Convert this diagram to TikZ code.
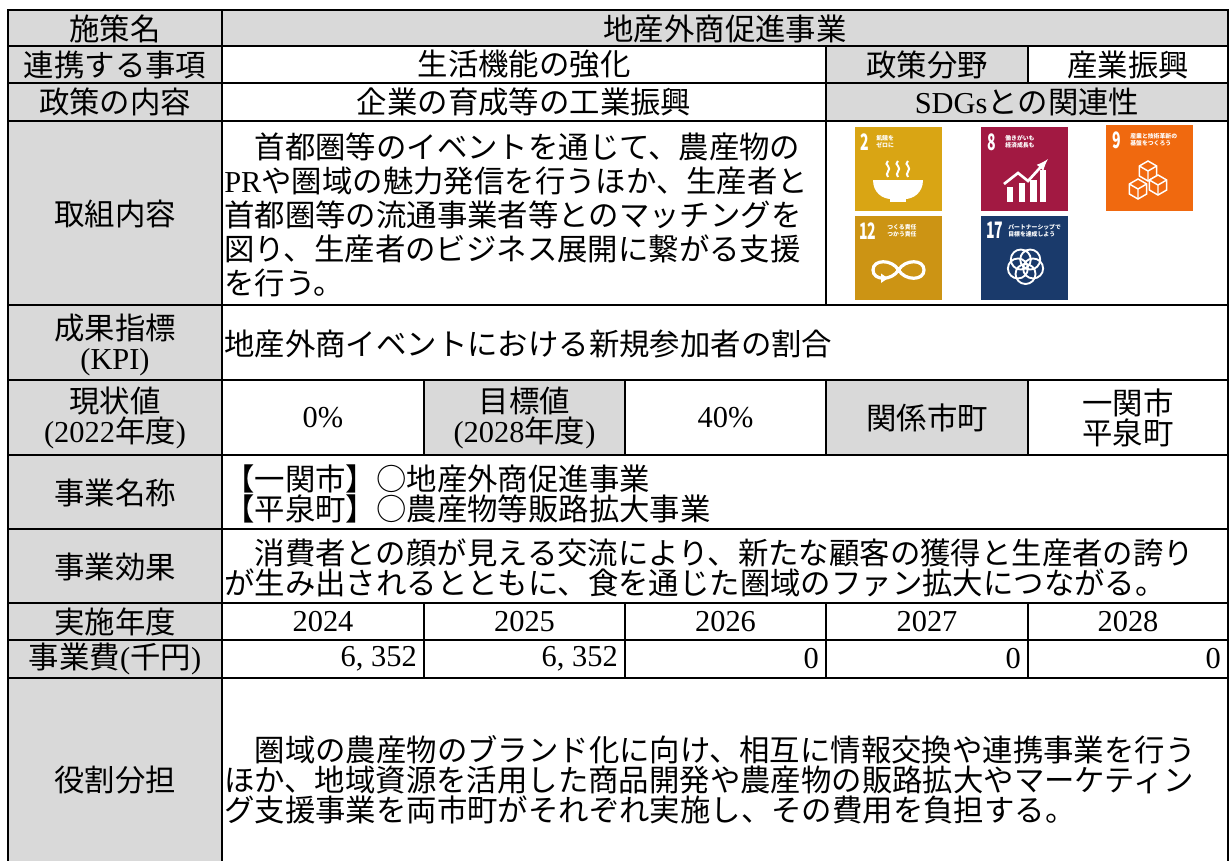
\documentclass[tikz,border=0pt]{standalone}
\usepackage{fontspec}
\setmainfont{Noto Sans CJK JP}
\newfontfamily\lat{Liberation Serif}
\usepackage{xcolor}
\usepackage{graphicx}
\usepackage{tikz}
\definecolor{Grau}{HTML}{D9D9D9}
\definecolor{SDGzwei}{HTML}{D9A514}
\definecolor{SDGacht}{HTML}{A21942}
\definecolor{SDGneun}{HTML}{F0690F}
\definecolor{SDGzwoelf}{HTML}{CC9414}
\definecolor{SDGsiebzehn}{HTML}{1A3A6B}
\tikzset{
  Linie/.style={line width=1.65pt}, % Gitterlinien
  Rahmen/.style={line width=1.95pt}, % Aussenrahmen
  Kopf/.style={inner sep=0pt, align=center}, % graue Felder
  Feld/.style={inner sep=0pt, align=center}, % weisse Felder
  Absatz/.style={inner sep=0pt, align=left, anchor=west}, % Fliesstext
  Zahl/.style={inner sep=0pt, anchor=east}, % Betraege
  SDGNr/.style={inner sep=0pt, anchor=north west, text=white,
    font=\fontsize{17}{17}\selectfont\bfseries}, % Zielnummer
  SDGTxt/.style={inner sep=0pt, anchor=north west, text=white, align=left,
    font=\fontsize{4.4}{5.4}\selectfont\bfseries}, % Zieltext
  Symbol/.style={white, line width=1.5pt} % Piktogramme
}

\begin{document}
\begin{tikzpicture}[x=0.75pt, y=-0.75pt,
font=\fontsize{22.8}{22.5}\selectfont,
>=latex % Voreinstellung fuer Pfeilspitzen
]
\useasboundingbox (0,0) rectangle (1231,860);

%Hintergrund
\fill[Grau] (8,10) rectangle (222,870);
\fill[Grau] (222,10) rectangle (1228,46);
\fill[Grau] (826,46) rectangle (1028,83);
\fill[Grau] (826,83) rectangle (1228,121);
\fill[Grau] (424,380) rectangle (625,455);
\fill[Grau] (826,380) rectangle (1028,455);

%SDG-Symbole
\begin{scope}[shift={(855,127)}]
\fill[SDGzwei] (0,0) rectangle (87,84);
\node[SDGNr] (Nr2) at (5,6) {\scalebox{.62}[1]{2}};
\node[SDGTxt] (Txt2) at (21,8) {飢餓を\\ゼロに};
\fill[white] (18,53) -- (68,53) .. controls (68,66) and (58,72) .. (50,72)
  -- (36,72) .. controls (28,72) and (18,66) .. (18,53) -- cycle;
\fill[white] (35,71) rectangle (51,75);
\foreach \s in {33,43,53}
  \draw[Symbol] (\s,50) .. controls (\s-4,46) and (\s+4,43) .. (\s,39) .. controls (\s-2,37) .. (\s,34);
\end{scope}

\begin{scope}[shift={(981,127)}]
\fill[SDGacht] (0,0) rectangle (87,84);
\node[SDGNr] (Nr8) at (6,6) {\scalebox{.62}[1]{8}};
\node[SDGTxt] (Txt8) at (24,8) {働きがいも\\経済成長も};
\fill[white] (26,60) rectangle (32,75);
\fill[white] (38,56) rectangle (44,75);
\fill[white] (49,53) rectangle (56,75);
\fill[white] (59,43) rectangle (65,75);
\draw[Symbol, line width=2pt, ->] (23,57) -- (37,46) -- (47,54) -- (67,32);
\end{scope}

\begin{scope}[shift={(1106,125)}]
\fill[SDGneun] (0,0) rectangle (87,86);
\node[SDGNr] (Nr9) at (6,6) {\scalebox{.62}[1]{9}};
\node[SDGTxt] (Txt9) at (24,8) {産業と技術革新の\\基盤をつくろう};
\foreach \cx/\cy in {42/46, 52/60, 32/64}{
  \filldraw[fill=SDGneun, draw=white, line width=1.1pt] (\cx,\cy-10) -- (\cx+8.66,\cy-5)
    -- (\cx+8.66,\cy+5) -- (\cx,\cy+10) -- (\cx-8.66,\cy+5) -- (\cx-8.66,\cy-5) -- cycle;
  \draw[white, line width=1.1pt] (\cx-8.66,\cy-5) -- (\cx,\cy) -- (\cx+8.66,\cy-5)
    (\cx,\cy) -- (\cx,\cy+10);
}
\end{scope}

\begin{scope}[shift={(855,216)}]
\fill[SDGzwoelf] (0,0) rectangle (87,84);
\node[SDGNr] (Nr12) at (4,6) {\scalebox{.62}[1]{12}};
\node[SDGTxt] (Txt12) at (32,8) {つくる責任\\つかう責任};
\draw[Symbol, line width=2.4pt] (43.5,54) .. controls (50,43) and (69,43) .. (69,54)
  .. controls (69,65) and (50,65) .. (43.5,54) .. controls (37,43) and (18,43) .. (18,54)
  .. controls (18,65) and (37,65) .. (43.5,54);
\fill[white] (26,57.5) -- (33,62.2) -- (26,67) -- cycle;
\end{scope}

\begin{scope}[shift={(981,216)}]
\fill[SDGsiebzehn] (0,0) rectangle (87,84);
\node[SDGNr] (Nr17) at (5,6) {\scalebox{.62}[1]{17}};
\node[SDGTxt] (Txt17) at (27,8) {パートナーシップで\\目標を達成しよう};
\foreach \w in {90,162,...,378}
  \draw[Symbol, line width=1.4pt] (44.5,50) ++(\w:8) circle (10);
\end{scope}

%Linien
\foreach \y in {46,83,121,305,380,455,529,603,640,678}
  \draw[Linie] (8,\y) -- (1228,\y);
\draw[Linie] (222,10) -- (222,870);
\draw[Linie] (826,46) -- (826,305);
\draw[Linie] (1028,46) -- (1028,83);
\foreach \x in {424,625,826,1028}
  \draw[Linie] (\x,380) -- (\x,455) (\x,603) -- (\x,678);
\draw[Rahmen] (8,870) -- (8,10) -- (1228,10) -- (1228,870);

%Kopfspalte
\node[Kopf] (Name) at (115,29) {施策名};
\node[Kopf] (Thema) at (115,64.5) {連携する事項};
\node[Kopf] (Politik) at (115,102) {政策の内容};
\node[Kopf] (Inhalt) at (115,214) {取組内容};
\node[Kopf] (KPI) at (115,345) {成果指標\\{\lat (KPI)}};
\node[Kopf] (Ist) at (115,418) {現状値\\{\lat (2022}年度{\lat )}};
\node[Kopf] (Projekt) at (115,493) {事業名称};
\node[Kopf] (Wirkung) at (115,567) {事業効果};
\node[Kopf] (Jahr) at (115,622) {実施年度};
\node[Kopf] (Kosten) at (115,659) {事業費{\lat (}千円{\lat )}};
\node[Kopf] (Rolle) at (115,780) {役割分担};

%Inhalte
\node[Kopf] (Titel) at (725,29) {地産外商促進事業};
\node[Feld] (Thema1) at (524,64.5) {生活機能の強化};
\node[Kopf] (Bereich) at (927,64.5) {政策分野};
\node[Feld] (Bereich1) at (1128,64.5) {産業振興};
\node[Feld] (Politik1) at (524,102) {企業の育成等の工業振興};
\node[Kopf] (SDG) at (1027,102) {{\lat SDGs}との関連性};
\node[Absatz, font=\fontsize{22.8}{25.5}\selectfont] (Inhalt1) at (224,215)
  {　首都圏等のイベントを通じて、農産物の\\{\lat PR}や圏域の魅力発信を行うほか、生産者と\\首都圏等の流通事業者等とのマッチングを\\図り、生産者のビジネス展開に繋がる支援\\を行う。};
\node[Absatz] (KPI1) at (224,344) {地産外商イベントにおける新規参加者の割合};
\node[Feld] (Ist1) at (323,418) {{\lat 0\%}};
\node[Kopf] (Soll) at (524.5,418) {目標値\\{\lat (2028}年度{\lat )}};
\node[Feld] (Soll1) at (725.5,418) {{\lat 40\%}};
\node[Kopf] (Orte) at (927,418) {関係市町};
\node[Feld] (Orte1) at (1128,418) {一関市\\平泉町};
\node[Absatz] (Projekt1) at (224,494) {【一関市】○地産外商促進事業\\【平泉町】○農産物等販路拡大事業};
\node[Absatz] (Wirkung1) at (224,567.5)
  {　消費者との顔が見える交流により、新たな顧客の獲得と生産者の誇り\\が生み出されるとともに、食を通じた圏域のファン拡大につながる。};
\foreach \j/\x in {2024/323, 2025/524.5, 2026/725.5, 2027/927, 2028/1128}
  \node[Feld] (J\j) at (\x,622) {{\lat \j}};
\foreach \k/\x/\w in {1/417/{6, 352}, 2/618/{6, 352}, 3/819/0, 4/1021/0, 5/1221/0}
  \node[Zahl] (K\k) at (\x,659) {{\lat \w}};
\node[Absatz] (Rolle1) at (224,780)
  {　圏域の農産物のブランド化に向け、相互に情報交換や連携事業を行う\\ほか、地域資源を活用した商品開発や農産物の販路拡大やマーケティン\\グ支援事業を両市町がそれぞれ実施し、その費用を負担する。};

\end{tikzpicture}
\end{document}
